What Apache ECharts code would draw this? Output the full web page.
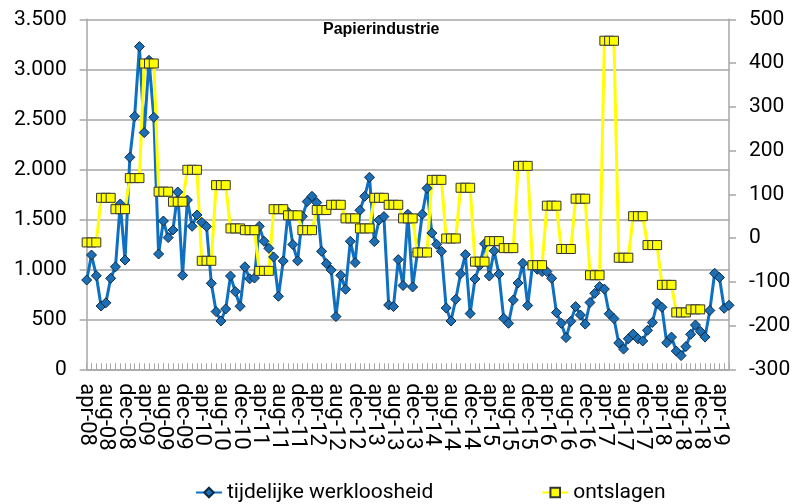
<!DOCTYPE html>
<html>
<head>
<meta charset="utf-8">
<script src="https://cdn.jsdelivr.net/npm/echarts@6/dist/echarts.min.js"></script>
<style>
html,body{margin:0;padding:0;background:#fff;}
#c{width:795px;height:504px;}
</style>
</head>
<body>
<div id="c"></div>
<script>
var categories = [
"apr-08","mei-08","jun-08","jul-08","aug-08","sep-08","okt-08","nov-08","dec-08",
"jan-09","feb-09","mrt-09","apr-09","mei-09","jun-09","jul-09","aug-09","sep-09","okt-09","nov-09","dec-09",
"jan-10","feb-10","mrt-10","apr-10","mei-10","jun-10","jul-10","aug-10","sep-10","okt-10","nov-10","dec-10",
"jan-11","feb-11","mrt-11","apr-11","mei-11","jun-11","jul-11","aug-11","sep-11","okt-11","nov-11","dec-11",
"jan-12","feb-12","mrt-12","apr-12","mei-12","jun-12","jul-12","aug-12","sep-12","okt-12","nov-12","dec-12",
"jan-13","feb-13","mrt-13","apr-13","mei-13","jun-13","jul-13","aug-13","sep-13","okt-13","nov-13","dec-13",
"jan-14","feb-14","mrt-14","apr-14","mei-14","jun-14","jul-14","aug-14","sep-14","okt-14","nov-14","dec-14",
"jan-15","feb-15","mrt-15","apr-15","mei-15","jun-15","jul-15","aug-15","sep-15","okt-15","nov-15","dec-15",
"jan-16","feb-16","mrt-16","apr-16","mei-16","jun-16","jul-16","aug-16","sep-16","okt-16","nov-16","dec-16",
"jan-17","feb-17","mrt-17","apr-17","mei-17","jun-17","jul-17","aug-17","sep-17","okt-17","nov-17","dec-17",
"jan-18","feb-18","mrt-18","apr-18","mei-18","jun-18","jul-18","aug-18","sep-18","okt-18","nov-18","dec-18",
"jan-19","feb-19","mrt-19","apr-19","mei-19","jun-19"
];

var tijdelijkeWerkloosheid = [
893,1143,936,633,665,910,1025,1653,1093,
2120,2530,3227,2367,3090,2520,1153,1483,1317,1393,1773,940,
1693,1430,1543,1470,1427,860,577,483,603,933,777,630,
1025,905,913,1430,1280,1210,1123,730,1083,1570,1248,1085,
1530,1677,1730,1667,1180,1057,993,527,940,800,1280,1067,
1590,1730,1920,1277,1493,1527,643,627,1097,838,1550,823,
1170,1550,1810,1363,1250,1180,613,483,700,955,1147,557,
903,1040,1255,933,1185,952,510,460,693,863,1060,638,
1043,1000,977,977,910,567,460,317,480,627,543,452,
668,760,827,802,555,507,263,202,305,352,305,283,
390,468,660,620,265,322,182,137,227,350,443,380,
322,588,960,918,610,640
];

var ontslagen = [
-10,-10,-10,92,92,92,66,66,66,
137,137,137,399,399,399,106,106,106,83,83,83,
156,156,156,-52,-52,-52,121,121,121,22,22,22,
18,18,18,-75,-75,-75,66,66,66,52,52,52,
18,18,18,64,64,64,76,76,76,45,45,45,
22,22,22,92,92,92,76,76,76,45,45,45,
-33,-33,-33,133,133,133,-1,-1,-1,115,115,115,
-54,-54,-54,-7,-7,-7,-23,-23,-23,165,165,165,
-62,-62,-62,74,74,74,-25,-25,-25,90,90,90,
-85,-85,-85,451,451,451,-45,-45,-45,50,50,50,
-16,-16,-16,-107,-107,-107,-170,-170,-170,-163,-163,-163,
null,null,null,null,null,null
];

var chart = echarts.init(document.getElementById('c'), null, {renderer:'canvas'});
var FONT = 'Roboto';
var grey = '#a6a6a6';
var option = {
  animation:false,
  backgroundColor:'#fff',
  title:{
    text:'Papierindustrie',
    left:318, top:17,
    textStyle:{fontFamily:'Liberation Sans',fontWeight:'bold',fontSize:16,color:'#000'}
  },
  grid:{left:86.7,right:66,top:19.3,bottom:134.7,containLabel:false},
  legend:{
    top:477,
    left:190,
    itemGap:108,
    itemWidth:26,
    itemHeight:12,
    textStyle:{fontFamily:FONT,fontSize:21,color:'#000'},
    data:['tijdelijke werkloosheid','ontslagen']
  },
  xAxis:{
    type:'category',
    data:categories,
    boundaryGap:false,
    axisLine:{show:true,lineStyle:{color:grey,width:1.5}},
    axisTick:{show:true,inside:true,length:6,interval:0,lineStyle:{color:grey,width:1}},
    axisLabel:{
      interval:0,
      showMinLabel:true, showMaxLabel:true, hideOverlap:false,
      formatter:function(v,i){return i%4===0 ? v : '';},
      rotate:-90,margin:14,fontFamily:FONT,fontSize:22,lineHeight:16,color:'#000'
    },
    splitLine:{show:false}
  },
  yAxis:[
    {
      type:'value',min:0,max:3500,interval:500,
      axisLine:{show:true,lineStyle:{color:grey,width:1.5}},
      axisTick:{show:true,length:7,lineStyle:{color:grey,width:1.5}},
      axisLabel:{margin:20,fontFamily:FONT,fontSize:21,color:'#000',
        formatter:function(v){return v>=1000?(Math.floor(v/1000)+'.'+String(v%1000).padStart(3,'0')):String(v);}},
      splitLine:{show:true,lineStyle:{color:grey,width:1.5}}
    },
    {
      type:'value',min:-300,max:500,interval:100,
      axisLine:{show:true,lineStyle:{color:grey,width:1.5}},
      axisTick:{show:true,length:7,lineStyle:{color:grey,width:1.5}},
      axisLabel:{margin:20,fontFamily:FONT,fontSize:21,color:'#000'},
      splitLine:{show:false}
    }
  ],
  series:[
    {
      name:'tijdelijke werkloosheid',
      type:'line',
      yAxisIndex:0,
      data:tijdelijkeWerkloosheid,
      symbol:'diamond',
      symbolSize:10,
      showAllSymbol:true,
      lineStyle:{color:'#0f6fc0',width:3},
      itemStyle:{color:'#1c6fb5',borderColor:'#0d2a45',borderWidth:1}
    },
    {
      name:'ontslagen',
      type:'line',
      yAxisIndex:1,
      data:ontslagen,
      symbol:'rect',
      symbolSize:[9,9],
      showAllSymbol:true,
      lineStyle:{color:'#ffff00',width:3},
      itemStyle:{color:'#ffff00',borderColor:'#333',borderWidth:1}
    }
  ]
};
chart.setOption(option);
</script>
</body>
</html>
